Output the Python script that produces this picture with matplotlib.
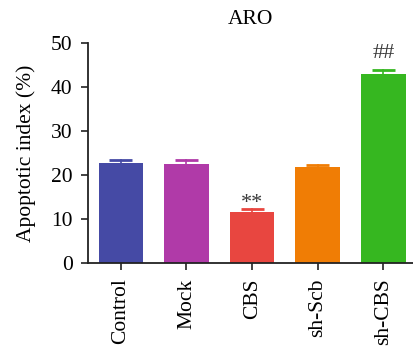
import matplotlib
matplotlib.use("Agg")
import matplotlib.pyplot as plt

categories = ["Control", "Mock", "CBS", "sh-Scb", "sh-CBS"]
values = [22.7, 22.5, 11.6, 21.8, 43.0]
errors = [0.6, 0.8, 0.6, 0.5, 0.9]
colors = ["#454aa5", "#b03aa8", "#e84640", "#f07d05", "#36b720"]
marks = ["", "", "**", "", "##"]

plt.rcParams["font.family"] = ["Liberation Serif", "DejaVu Serif"]
FS = 15.5

fig = plt.figure(figsize=(4.13, 3.49), dpi=100)
ax = fig.add_axes([88 / 413, (349 - 263) / 349, (413 - 88) / 413, 220 / 349])

x = list(range(len(categories)))
ax.bar(x, values, width=0.68, color=colors, edgecolor="none", zorder=2)

# gap above the error cap for each significance marker (baseline-aligned)
mark_gap = {"**": 0.2, "##": 2.6}
for xi, v, e, c, m in zip(x, values, errors, colors, marks):
    ax.plot([xi, xi], [v, v + e], color=c, lw=1.2, zorder=1)
    ax.plot([xi - 0.175, xi + 0.175], [v + e, v + e], color=c, lw=2,
            solid_capstyle="butt", zorder=1)
    if m:
        ax.text(xi, v + e + mark_gap[m], m, ha="center", va="baseline",
                fontsize=16, color="#3a3a3a")

ax.set_xlim(-0.5, 4.45)
ax.set_ylim(0, 50)
ax.set_yticks([0, 10, 20, 30, 40, 50])
ax.set_xticks(x)
ax.set_xticklabels(categories, rotation=90, fontsize=FS)
ax.tick_params(axis="y", labelsize=FS, length=5, width=1.2, color="#222222", pad=6)
ax.tick_params(axis="x", length=5, width=1.2, color="#222222", pad=6)
for s in ["top", "right"]:
    ax.spines[s].set_visible(False)
for s in ["left", "bottom"]:
    ax.spines[s].set_linewidth(1.3)
    ax.spines[s].set_color("#222222")
ax.set_ylabel("Apoptotic index (%)", fontsize=FS, labelpad=11)
ax.set_title("ARO", fontsize=FS, pad=14)

fig.savefig("out.png", dpi=100)
